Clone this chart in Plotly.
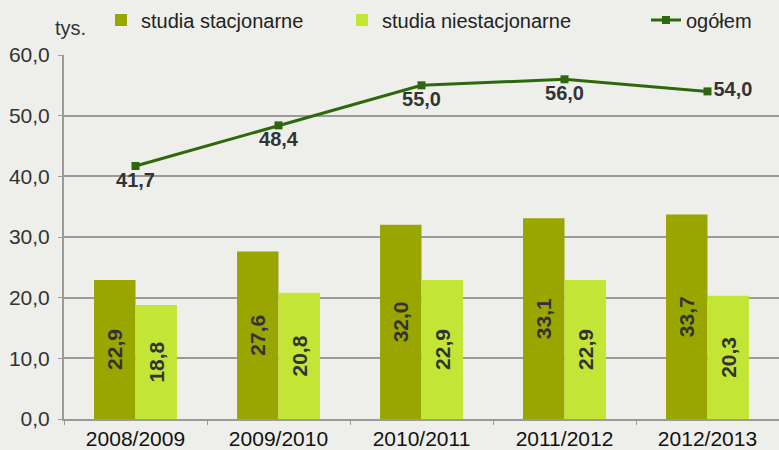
import plotly.graph_objects as go

categories = ["2008/2009", "2009/2010", "2010/2011", "2011/2012", "2012/2013"]
stacjonarne = [22.9, 27.6, 32.0, 33.1, 33.7]
niestacjonarne = [18.8, 20.8, 22.9, 22.9, 20.3]
ogolem = [41.7, 48.4, 55.0, 56.0, 54.0]
y_ticks = [0, 10, 20, 30, 40, 50, 60]

def fmt(v):
    return f"{v:.1f}".replace(".", ",")

FONT = "Liberation Sans, Arial, sans-serif"
W, H = 779, 450

fig = go.Figure()
fig.add_trace(go.Bar(
    x=categories, y=stacjonarne, name="studia stacjonarne", legend="legend",
    marker=dict(color="#9AA600", line=dict(width=0)),
    text=[fmt(v) for v in stacjonarne], textposition="inside",
    insidetextanchor="middle", textangle=-90, constraintext="none",
    textfont=dict(family=FONT, size=21, color="#333333", weight="bold"),
))
fig.add_trace(go.Bar(
    x=categories, y=niestacjonarne, name="studia niestacjonarne", legend="legend2",
    marker=dict(color="#C3E535", line=dict(width=0)),
    text=[fmt(v) for v in niestacjonarne], textposition="inside",
    insidetextanchor="middle", textangle=-90, constraintext="none",
    textfont=dict(family=FONT, size=21, color="#333333", weight="bold"),
))
positions = ["bottom center", "bottom center", "bottom center", "bottom center", "middle right"]
fig.add_trace(go.Scatter(
    x=categories, y=ogolem, name="ogółem", legend="legend3", mode="lines+markers+text",
    line=dict(color="#2E680C", width=3),
    marker=dict(symbol="square", size=8, color="#2E680C"),
    text=[fmt(v) for v in ogolem], textposition=positions,
    textfont=dict(family=FONT, size=20, color="#333333", weight="bold"),
    cliponaxis=False,
))

leg_common = dict(orientation="h", xref="container", yref="container",
                  xanchor="left", yanchor="middle", y=1 - 20 / H,
                  font=dict(size=20, color="#222222"), bgcolor="rgba(0,0,0,0)")
fig.update_layout(
    width=W, height=H,
    margin=dict(l=64, r=0, t=55, b=31),
    paper_bgcolor="#EEEFEB", plot_bgcolor="#EEEFEB",
    font=dict(family=FONT, size=20, color="#333333"),
    barmode="group", bargap=0.42, bargroupgap=0,
    showlegend=True,
    legend=dict(x=101 / W, **leg_common),
    legend2=dict(x=342 / W, **leg_common),
    legend3=dict(x=646 / W, **leg_common),
)
fig.add_annotation(text="tys.", xref="paper", yref="paper", x=6 / 715, y=1 + (55 - 28) / 364,
                   xanchor="center", yanchor="middle", showarrow=False,
                   font=dict(size=20, color="#333333"))
fig.update_yaxes(range=[0, 60], tickvals=y_ticks, ticktext=[fmt(v) for v in y_ticks],
                 showgrid=True, gridcolor="#9A9A9A", gridwidth=2,
                 showline=True, linecolor="#9A9A9A", linewidth=2,
                 ticks="outside", ticklen=4, tickcolor="#9A9A9A", ticklabelstandoff=4,
                 zeroline=False, tickfont=dict(size=21, color="#333333"))
fig.update_xaxes(showline=True, linecolor="#9A9A9A", linewidth=2,
                 ticks="outside", ticklen=4, tickcolor="#9A9A9A", tickson="boundaries",
                 tickfont=dict(size=21, color="#111111"))

fig.write_html("out.html", config={"displayModeBar": False},
               post_script="document.body.style.margin='0';")
